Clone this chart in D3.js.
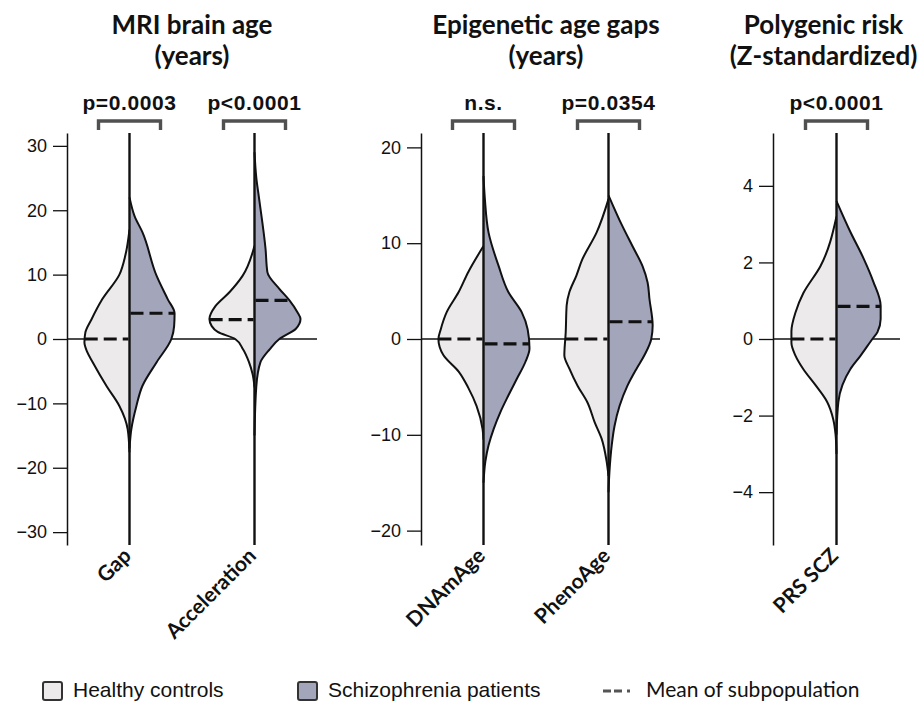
<!DOCTYPE html>
<html>
<head>
<meta charset="utf-8">
<script src="https://cdn.jsdelivr.net/npm/d3@7"></script>
<style>
  body { margin: 0; background: #fff; }
  text { fill: #111; }
</style>
</head>
<body>
<svg id="chart" width="921" height="702"></svg>
<script>
// ---- data ----
const panelTitles = [
  ['MRI brain age', '(years)'],
  ['Epigenetic age gaps', '(years)'],
  ['Polygenic risk', '(Z-standardized)']
];
const panelDomains = [[-32, 32], [-21.5, 21.5], [-5.38, 5.38]];
const panelTicks = [
  [-30, -20, -10, 0, 10, 20, 30],
  [-20, -10, 0, 10, 20],
  [-4, -2, 0, 2, 4]
];

const categories = ['Gap', 'Acceleration', 'DNAmAge', 'PhenoAge', 'PRS SCZ'];
const categoryPanel = [0, 0, 1, 1, 2];
const pLabels = ['p=0.0003', 'p<0.0001', 'n.s.', 'p=0.0354', 'p<0.0001'];

const controlMeans = [0, 3, 0, 0, 0];
const patientMeans = [4, 6, -0.5, 1.8, 0.85];

// density outlines: [value, relative half-width]
const controlDensity = [
  [[17, 0], [13, 0.09], [10, 0.22], [6.2, 0.59], [3, 0.83], [1, 0.96], [-0.5, 0.98], [-2, 0.92],
   [-3.6, 0.8], [-7.3, 0.5], [-10.4, 0.22], [-14, 0.04], [-17.6, 0]],
  [[14.5, 0], [9.8, 0.26], [7.3, 0.54], [5.1, 0.85], [3.1, 0.98], [2, 0.93], [1.1, 0.8], [0, 0.42],
   [-1.6, 0.25], [-3.6, 0.12], [-5.5, 0.04], [-7.5, 0]],
  [[9.7, 0], [7, 0.33], [4.9, 0.54], [2.8, 0.8], [1, 0.93], [0, 0.98], [-1.7, 0.87], [-3.4, 0.54],
   [-5.1, 0.33], [-7, 0.15], [-9.4, 0.02], [-10.5, 0]],
  [[14.6, 0], [11.1, 0.26], [8.3, 0.57], [6.6, 0.7], [4.9, 0.85], [3.5, 0.91], [0.7, 0.93], [-1.7, 0.96],
   [-3.1, 0.85], [-4.9, 0.67], [-6.6, 0.46], [-8.7, 0.3], [-10.4, 0.15], [-12.8, 0.04], [-14.3, 0]],
  [[3.2, 0], [1.9, 0.35], [1.2, 0.72], [0.7, 0.89], [0.2, 0.98], [-0.1, 0.98], [-0.44, 0.89], [-0.79, 0.72],
   [-1.2, 0.46], [-1.65, 0.2], [-2.1, 0.07], [-2.5, 0.02], [-3, 0]]
];
const patientDensity = [
  [[22, 0], [19.1, 0.11], [16.6, 0.28], [9.8, 0.59], [6.2, 0.83], [4, 0.98], [2, 0.97], [0, 0.91],
   [-3.6, 0.59], [-7.3, 0.28], [-10.4, 0.15], [-14, 0.04], [-17, 0]],
  [[29, 0], [25, 0.04], [21.8, 0.1], [14, 0.24], [10.4, 0.28], [7.8, 0.54], [6, 0.76], [4.2, 0.93],
   [3.1, 1.0], [1.6, 0.9], [0, 0.54], [-1.6, 0.33], [-3.6, 0.13], [-7.3, 0.04], [-15, 0]],
  [[17, 0], [14.6, 0.03], [11.1, 0.11], [7.6, 0.33], [4.9, 0.54], [2.8, 0.83], [1, 0.96], [-1, 1.0],
   [-2.4, 0.91], [-4.2, 0.72], [-5.9, 0.54], [-7.6, 0.37], [-9.4, 0.22], [-11.1, 0.11], [-12.8, 0.04], [-15, 0]],
  [[15, 0], [11.8, 0.3], [9.7, 0.52], [7.6, 0.74], [5.9, 0.85], [4.2, 0.89], [1.4, 0.96], [0, 0.93],
   [-1.7, 0.78], [-3.1, 0.61], [-4.9, 0.41], [-7, 0.24], [-9.1, 0.13], [-11.1, 0.07], [-13.9, 0.02], [-16, 0]],
  [[3.6, 0], [2.8, 0.3], [2.1, 0.59], [1.5, 0.8], [0.87, 0.96], [0.52, 0.96], [0.18, 0.89], [0, 0.78],
   [-0.44, 0.52], [-0.79, 0.3], [-1.2, 0.13], [-1.65, 0.04], [-2.5, 0]]
];

const legendLabels = ['Healthy controls', 'Schizophrenia patients', 'Mean of subpopulation'];

// ---- layout ----
const panelX = [[67, 317], [421, 671], [773, 900]];
const zeroLineEnd = [317, 660, 900];
const plotTop = 133, plotBottom = 545;
const controlColor = '#ECEAEB';
const patientColor = '#A3A6BA';
const titleFont = 'Lato, "Noto Sans", sans-serif';
const helv = '"Liberation Sans", Arial, Helvetica, sans-serif';

const svg = d3.select('#chart');
const halfWidth = d3.scaleLinear().domain([0, 1]).range([0, 46]);

panelTitles.forEach((title, p) => {
  const g = svg.append('g');
  const y = d3.scaleLinear().domain(panelDomains[p]).range([plotBottom, plotTop]);
  const cats = categories.filter((c, i) => categoryPanel[i] === p);
  const x = d3.scalePoint().domain(cats).range(panelX[p]).padding(0.5);
  const titleX = (x(cats[0]) + x(cats[cats.length - 1])) / 2 + (p === 2 ? -13 : 0);

  g.selectAll('text.title')
    .data(title)
    .enter()
    .append('text')
    .attr('x', titleX)
    .attr('y', (d, i) => 34 + i * 31)
    .attr('text-anchor', 'middle')
    .style('font-family', titleFont)
    .style('font-weight', 'bold')
    .style('font-size', '26px')
    .text(d => d);

  // zero line
  g.append('line')
    .attr('x1', panelX[p][0]).attr('x2', zeroLineEnd[p])
    .attr('y1', y(0)).attr('y2', y(0))
    .attr('stroke', '#111').attr('stroke-width', 1.3);

  // y axis
  const axis = g.append('g')
    .attr('transform', 'translate(' + panelX[p][0] + ',0)')
    .call(d3.axisLeft(y).tickValues(panelTicks[p]).tickSize(14).tickSizeOuter(0).tickPadding(6));
  axis.select('.domain').attr('stroke', '#111').attr('stroke-width', 1.5);
  axis.selectAll('.tick line').attr('stroke', '#111').attr('stroke-width', 1.3);
  axis.selectAll('.tick text')
    .style('font-family', helv)
    .style('font-size', '18px')
    .attr('fill', '#111');

  cats.forEach(cat => {
    const i = categories.indexOf(cat);
    const cx = x(cat);

    [[controlDensity[i], -1, controlColor], [patientDensity[i], 1, patientColor]].forEach(([dens, side, color]) => {
      const area = d3.area()
        .y(d => y(d[0]))
        .x0(cx)
        .x1(d => cx + side * halfWidth(d[1]))
        .curve(d3.curveMonotoneY);
      const outline = d3.line()
        .y(d => y(d[0]))
        .x(d => cx + side * halfWidth(d[1]))
        .curve(d3.curveMonotoneY);
      g.append('path').attr('d', area(dens)).attr('fill', color);
      g.append('path').attr('d', outline(dens))
        .attr('fill', 'none').attr('stroke', '#111').attr('stroke-width', 2);
    });

    // centre line
    g.append('line')
      .attr('x1', cx).attr('x2', cx)
      .attr('y1', plotTop).attr('y2', plotBottom)
      .attr('stroke', '#111').attr('stroke-width', 2.4);

    // means (dashed, drawn left to right)
    const cw = d3.scaleLinear().domain(controlDensity[i].map(d => d[0])).range(controlDensity[i].map(d => d[1]));
    const pw = d3.scaleLinear().domain(patientDensity[i].map(d => d[0])).range(patientDensity[i].map(d => d[1]));
    const mCtrl = controlMeans[i], mPat = patientMeans[i];
    g.append('line')
      .attr('x1', cx - halfWidth(cw(mCtrl))).attr('x2', cx - 1)
      .attr('y1', y(mCtrl)).attr('y2', y(mCtrl))
      .attr('stroke', '#111').attr('stroke-width', 3.2).attr('stroke-dasharray', '13,6');
    g.append('line')
      .attr('x1', cx + 1).attr('x2', cx + halfWidth(pw(mPat)))
      .attr('y1', y(mPat)).attr('y2', y(mPat))
      .attr('stroke', '#111').attr('stroke-width', 3.2).attr('stroke-dasharray', '13,6');

    // significance bracket
    g.append('path')
      .attr('d', d3.line()([[cx - 31, 130], [cx - 31, 121], [cx + 31, 121], [cx + 31, 130]]))
      .attr('fill', 'none').attr('stroke', '#505050').attr('stroke-width', 3.4);
    g.append('text')
      .attr('x', cx)
      .attr('y', 110)
      .attr('text-anchor', 'middle')
      .style('font-family', helv)
      .style('font-weight', 'bold')
      .style('font-size', '21px')
      .style('letter-spacing', '0.6px')
      .text(pLabels[i]);

    // category label
    g.append('text')
      .attr('transform', 'translate(' + (cx + 3) + ',' + 557 + ') rotate(-45)')
      .attr('text-anchor', 'end')
      .style('font-family', titleFont)
      .style('font-weight', 'bold')
      .style('font-size', '21px')
      .text(cat);
  });
});

// ---- legend ----
const legend = svg.append('g');
const boxX = [43, 298];
[controlColor, patientColor].forEach((color, i) => {
  legend.append('rect')
    .attr('x', boxX[i]).attr('y', 682).attr('width', 19).attr('height', 18).attr('rx', 2)
    .attr('fill', color).attr('stroke', '#333').attr('stroke-width', 2);
  legend.append('text')
    .attr('x', boxX[i] + 30).attr('y', 697)
    .style('font-family', helv)
    .style('font-size', '21px')
    .text(legendLabels[i]);
});
legend.append('line')
  .attr('x1', 603).attr('x2', 634).attr('y1', 691).attr('y2', 691)
  .attr('stroke', '#555').attr('stroke-width', 3).attr('stroke-dasharray', '8,3,8,5,3,40');
legend.append('text')
  .attr('x', 646).attr('y', 697)
  .style('font-family', titleFont)
  .style('font-size', '21px')
  .text(legendLabels[2]);
</script>
</body>
</html>
